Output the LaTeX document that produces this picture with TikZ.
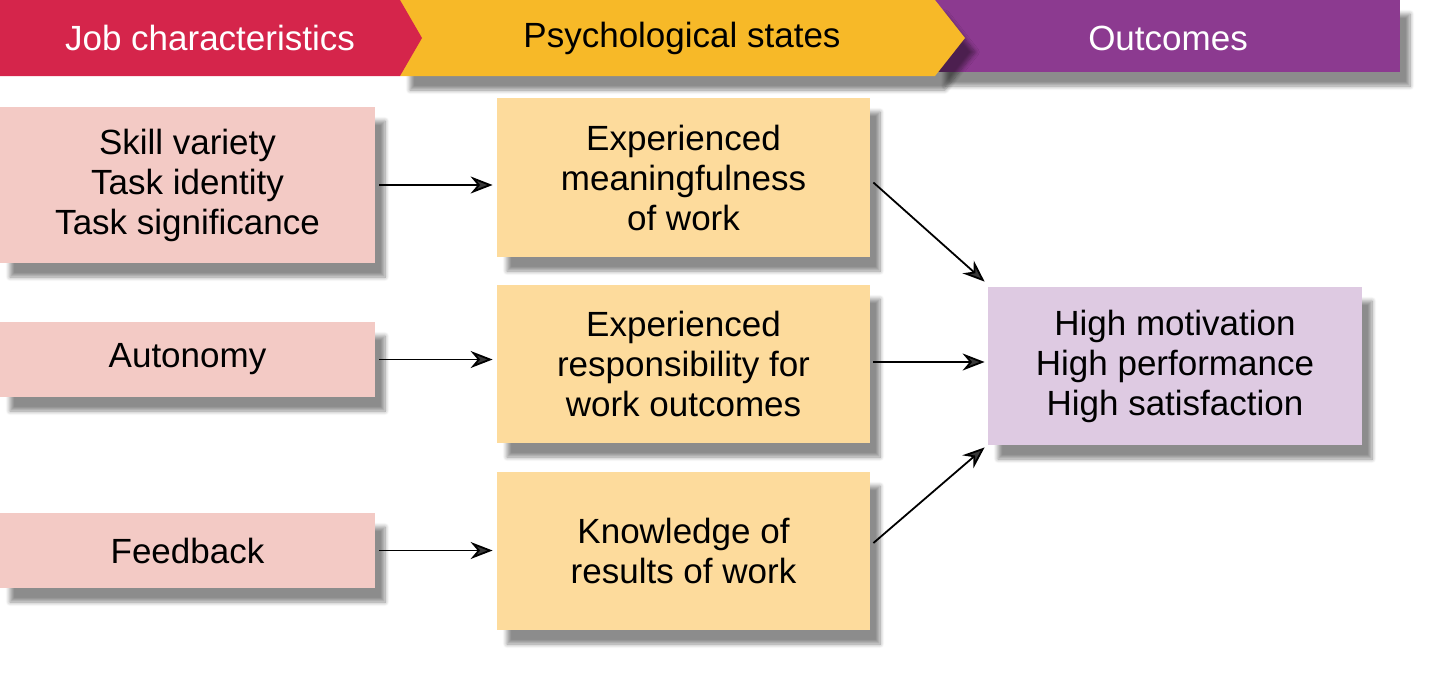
\documentclass[tikz,border=0pt]{standalone}
\usepackage{fontspec}
\setmainfont{Liberation Sans}
\usetikzlibrary{shadows.blur,arrows.meta}
\definecolor{hred}{HTML}{D5254B}
\definecolor{hyel}{HTML}{F7B928}
\definecolor{hpur}{HTML}{8C3A90}
\definecolor{bpink}{HTML}{F3CAC5}
\definecolor{byel}{HTML}{FDDB9C}
\definecolor{bpur}{HTML}{DECAE2}
\begin{document}
\begin{tikzpicture}[x=0.5pt,y=-0.5pt,
  sh/.style={blur shadow={shadow xshift=5pt,shadow yshift=-7pt,shadow blur steps=8,shadow opacity=45}},
  box/.style={sh,inner sep=0pt,align=center,font=\fontsize{17.5}{20}\selectfont},
  hd/.style={font=\fontsize{17.5}{20}\selectfont},
  arr/.style={-{Stealth[length=11pt,width=8.5pt]},line width=0.9pt}]
\useasboundingbox (0,0) rectangle (1440,676);
% headers
\fill[hpur,sh] (935,0) rectangle (1400,72);
\node[text=white,hd] (ho) at (1168,38) {Outcomes};
\fill[hyel,sh] (400,0) -- (935,0) -- (965,38) -- (935,76) -- (400,76) -- cycle;
\node[hd] (hp) at (682,38) {Psychological states};
\fill[hred] (0,0) -- (400,0) -- (422,38) -- (400,76) -- (0,76) -- cycle;
\node[text=white,hd] (hj) at (210,38) {Job characteristics};
% left
\node[box,fill=bpink,minimum width=187.5pt,minimum height=78pt] (l1) at (187.5,185) {Skill variety\\Task identity\\Task significance};
\node[box,fill=bpink,minimum width=187.5pt,minimum height=37.5pt] (l2) at (187.5,359.5) {Autonomy};
\node[box,fill=bpink,minimum width=187.5pt,minimum height=37.5pt] (l3) at (187.5,550.5) {Feedback};
% middle
\node[box,fill=byel,minimum width=186.5pt,minimum height=79.5pt] (m1) at (683.5,177.5) {Experienced\\meaningfulness\\of work};
\node[box,fill=byel,minimum width=186.5pt,minimum height=79pt] (m2) at (683.5,364) {Experienced\\responsibility for\\work outcomes};
\node[box,fill=byel,minimum width=186.5pt,minimum height=79pt] (m3) at (683.5,551) {Knowledge of\\results of work};
% right
\node[box,fill=bpur,minimum width=187pt,minimum height=79pt] (r) at (1175,366) {High motivation\\High performance\\High satisfaction};
% arrows
\draw[arr] ([xshift=2pt]l1.east) -- ([xshift=-2pt]m1.west |- l1.east);
\draw[arr] ([xshift=2pt]l2.east) -- ([xshift=-2pt]m2.west |- l2.east);
\draw[arr] ([xshift=2pt]l3.east) -- ([xshift=-2pt]m3.west |- l3.east);
\draw[arr] ([xshift=1.5pt,yshift=-2.5pt]m1.east) -- ([xshift=-1.5pt,yshift=2.5pt]r.north west);
\draw[arr] ([xshift=1.5pt,yshift=1pt]m2.east) -- ([xshift=-1.5pt,yshift=1pt]r.west |- m2.east);
\draw[arr] ([xshift=1.5pt,yshift=4pt]m3.east) -- ([xshift=-1.5pt,yshift=-1pt]r.south west);
\end{tikzpicture}
\end{document}
